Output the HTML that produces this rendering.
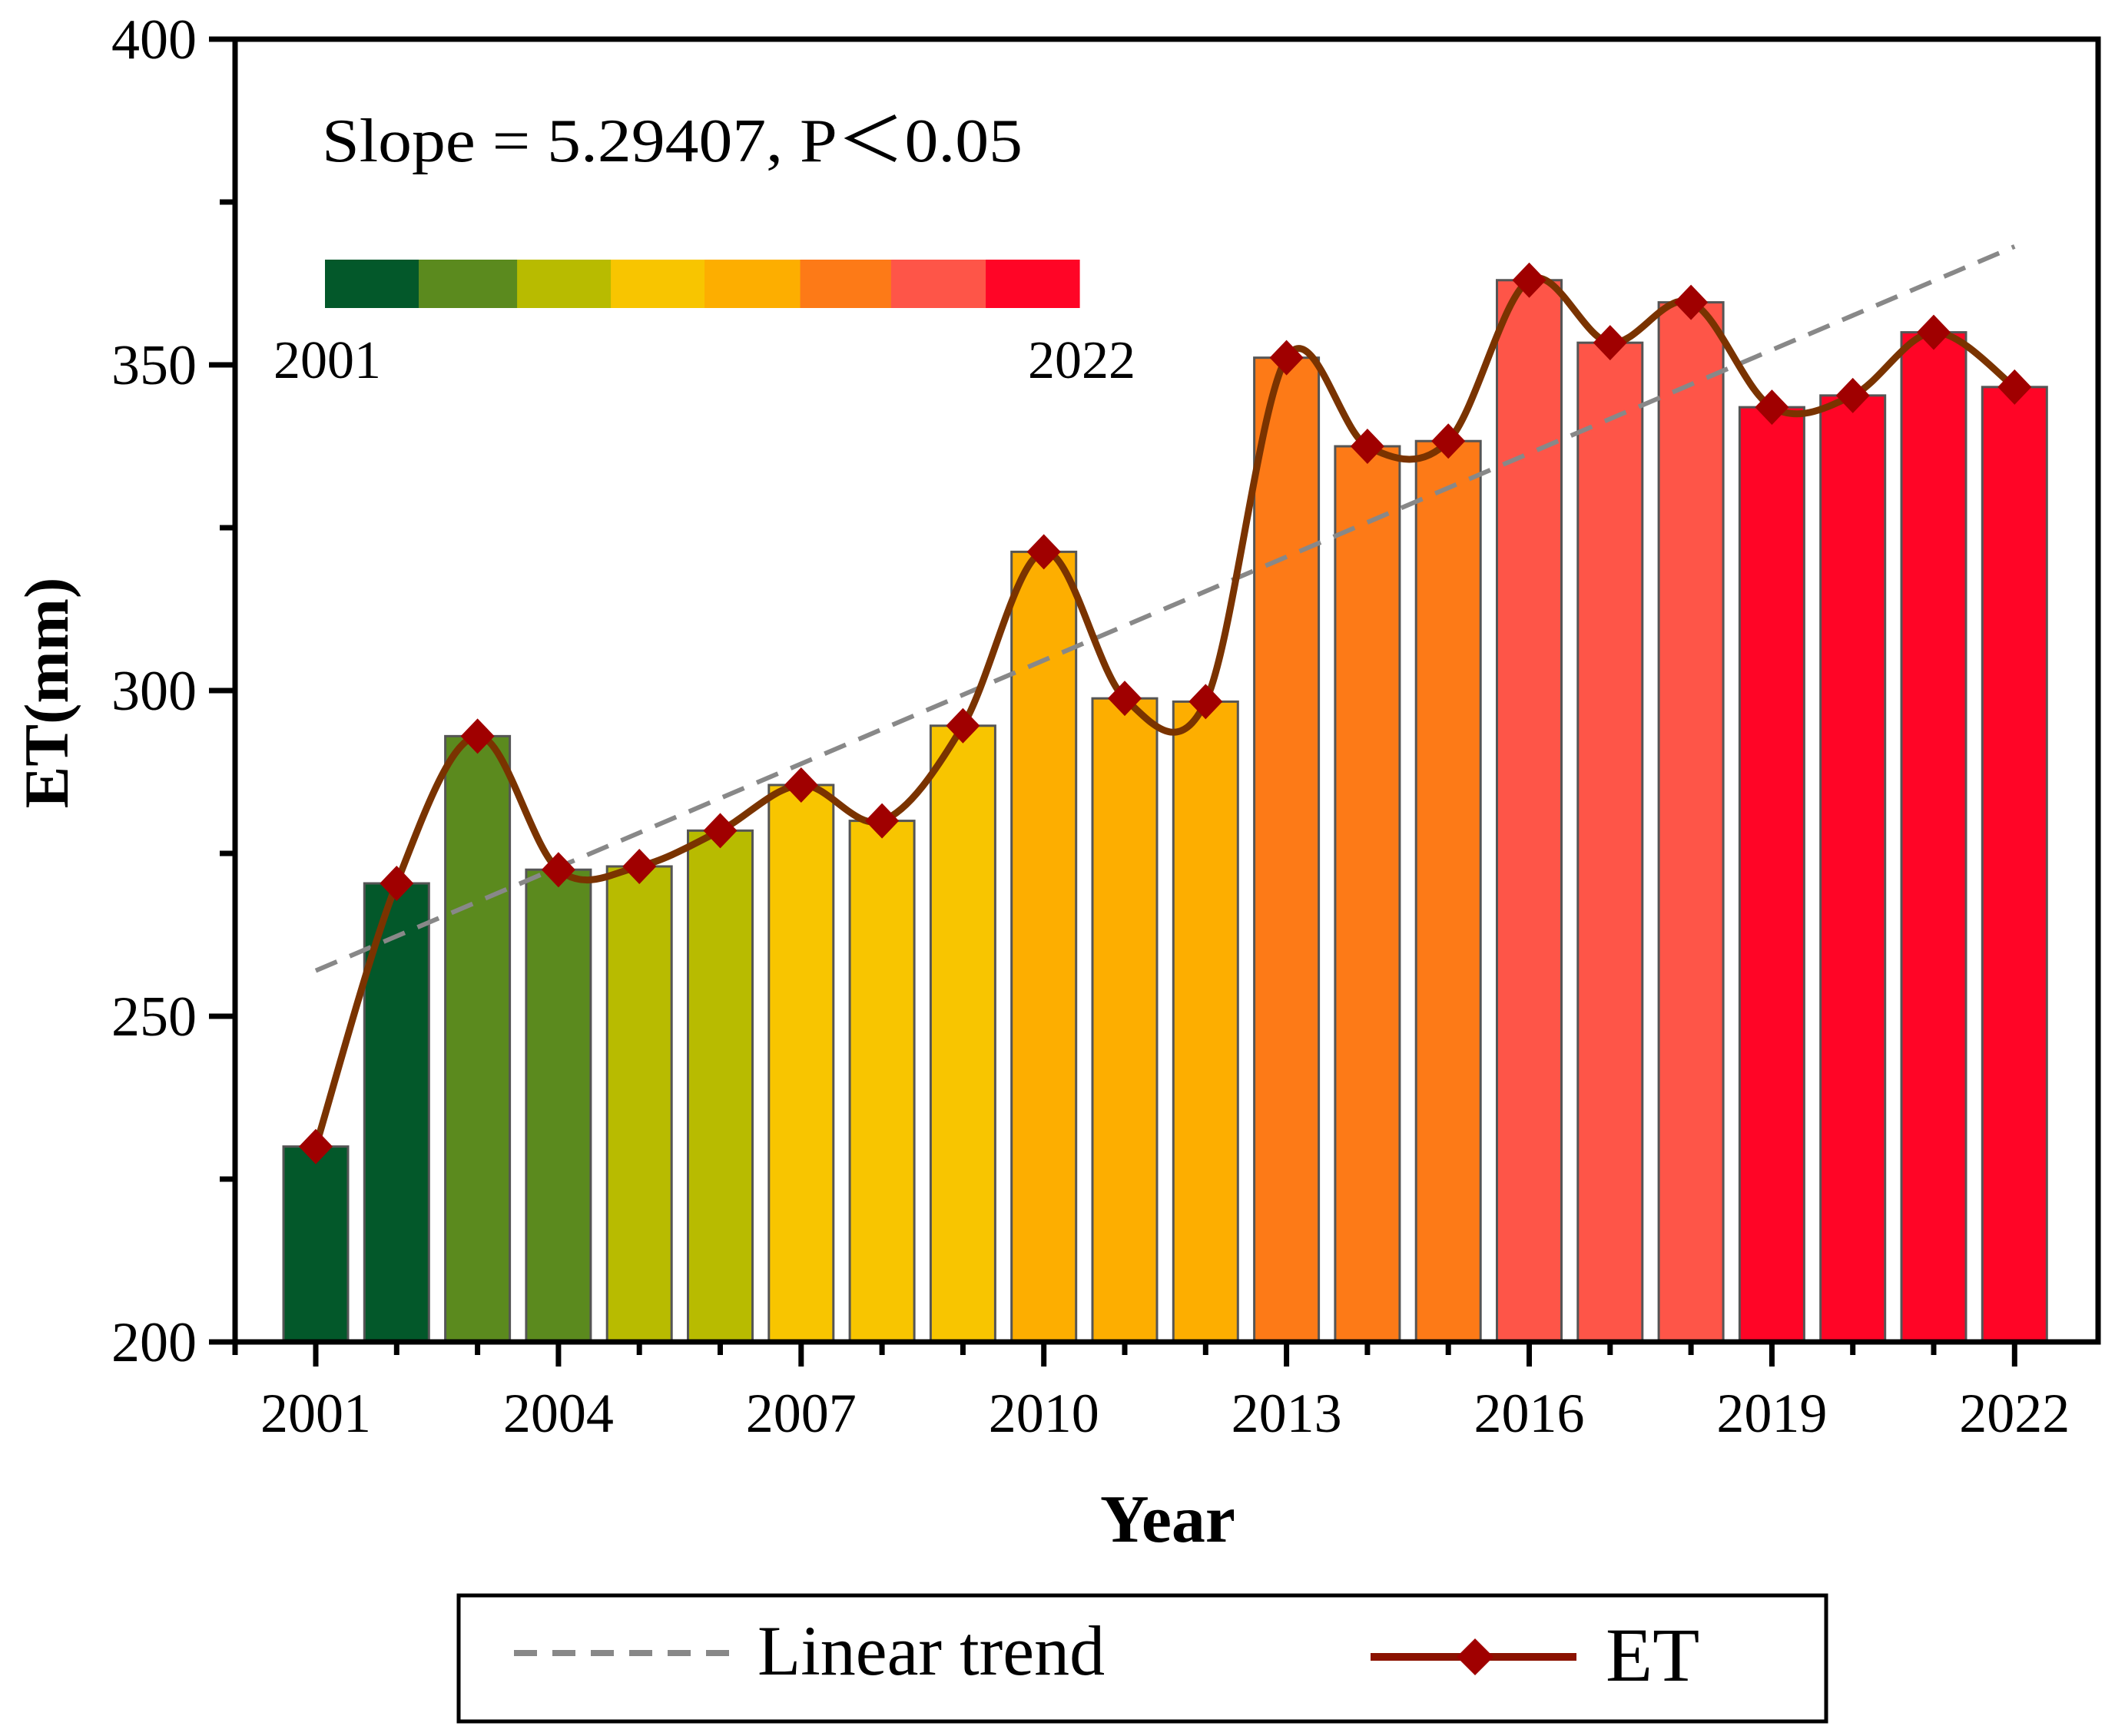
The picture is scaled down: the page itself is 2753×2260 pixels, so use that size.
<!DOCTYPE html>
<html><head><meta charset="utf-8"><style>
html,body{margin:0;padding:0;background:#fff;}
svg{display:block;font-family:"Liberation Serif",serif;}
</style></head><body>
<svg id="chart" width="2753" height="2260" viewBox="0 0 2753 2260" xmlns="http://www.w3.org/2000/svg">
<g id="bars"></g>
<g id="trend"></g>
<g id="line"></g>
<g id="axes"></g>
<text x="419" y="210" font-size="80" textLength="912" lengthAdjust="spacingAndGlyphs">Slope = 5.29407, P＜0.05</text>
<g id="cbar"></g>
<text x="356" y="492" font-size="70">2001</text>
<text x="1338" y="492" font-size="70">2022</text>
<text x="1520" y="2007" font-size="88" font-weight="bold" text-anchor="middle">Year</text>
<text transform="translate(88,902) rotate(-90)" font-size="82" font-weight="bold" text-anchor="middle">ET(mm)</text>
<g>
<rect x="597" y="2077" width="1780" height="164" fill="none" stroke="#000" stroke-width="5"/>
<line x1="669" y1="2152" x2="951" y2="2152" stroke="#888" stroke-width="8" stroke-dasharray="30,20"/>
<text x="986" y="2180" font-size="92">Linear trend</text>
<line x1="1784" y1="2157" x2="2052" y2="2157" stroke="#8b1200" stroke-width="10"/>
<path d="M1920 2133 L1944 2157 L1920 2181 L1896 2157 Z" fill="#a00000"/>
<text x="2090" y="2188" font-size="100">ET</text>
</g>
</svg>
<script>
const years=[2001,2002,2003,2004,2005,2006,2007,2008,2009,2010,2011,2012,2013,2014,2015,2016,2017,2018,2019,2020,2021,2022];
const etValues=[230,270.4,293,272.5,273,278.5,285.5,280,294.6,321.3,298.8,298.3,351.1,337.5,338.3,363,353.4,359.6,343.5,345.3,355,346.6];
const barColors=["#03582a","#03582a","#5b8a1e","#5b8a1e","#b8bb00","#b8bb00","#f8c500","#f8c500","#f8c500","#fdae00","#fdae00","#fdae00","#fd7a17","#fd7a17","#fd7a17","#fe5548","#fe5548","#fe5548","#ff0526","#ff0526","#ff0526","#ff0526"];
const yTicks=[200,250,300,350,400];
const xTickLabels=[2001,2004,2007,2010,2013,2016,2019,2022];
const trendSlope=5.29407;
const trendStart=257;
const cbarColors=["#03582a","#5b8a1e","#b8bb00","#f8c500","#fdae00","#fd7a17","#fe5548","#ff0526"];
const cbarEdges=[0,1,2.05,3.05,4.05,5.07,6.04,7.05,8.05];

const NS="http://www.w3.org/2000/svg";
const X0=306,X1=2731,Y0=1747,Y1=51;
const xs=y=>411+(y-2001)*105.3;
const ys=v=>Y0-(v-200)*(Y0-Y1)/200;
function mk(tag,attrs,parent){const e=document.createElementNS(NS,tag);for(const k in attrs)e.setAttribute(k,attrs[k]);parent.appendChild(e);return e;}
const gb=document.getElementById('bars');
years.forEach((yr,i)=>{
 const r=mk('rect',{x:xs(yr)-42,y:ys(etValues[i]),width:84,height:Y0-ys(etValues[i]),fill:barColors[i],stroke:'#555','stroke-width':3},gb);
 
 
});
const gt=document.getElementById('trend');
const tl=mk('line',{x1:xs(2001),y1:ys(trendStart),x2:xs(2022),y2:ys(trendStart+trendSlope*21),stroke:'#888','stroke-width':6,'stroke-dasharray':'30,18'},gt);


const gl=document.getElementById('line');
const P=years.map((yr,i)=>[xs(yr),ys(etValues[i])]);
let d='M'+P[0][0]+' '+P[0][1];
for(let i=0;i<P.length-1;i++){
 const p0=P[Math.max(0,i-1)],p1=P[i],p2=P[i+1],p3=P[Math.min(P.length-1,i+2)];
 const c1=[p1[0]+(p2[0]-p0[0])/6,p1[1]+(p2[1]-p0[1])/6];
 const c2=[p2[0]-(p3[0]-p1[0])/6,p2[1]-(p3[1]-p1[1])/6];
 d+=' C'+c1[0]+' '+c1[1]+' '+c2[0]+' '+c2[1]+' '+p2[0]+' '+p2[1];
}
const pl=mk('path',{d:d,fill:'none',stroke:'#7a3300','stroke-width':9},gl);


P.forEach((p,i)=>{
 const m=mk('path',{d:`M${p[0]} ${p[1]-23} L${p[0]+22} ${p[1]} L${p[0]} ${p[1]+23} L${p[0]-22} ${p[1]} Z`,fill:'#a00000'},gl);
 
 
});
const ga=document.getElementById('axes');
mk('rect',{x:X0,y:Y1,width:X1-X0,height:Y0-Y1,fill:'none',stroke:'#000','stroke-width':7},ga);
for(let v=200;v<=400;v+=25){
 const major=v%50===0;
 const t=mk('line',{x1:X0-(major?34:20),y1:ys(v),x2:X0,y2:ys(v),stroke:'#000','stroke-width':7},ga);
 
 
}
yTicks.forEach(v=>{
 const t=mk('text',{x:256,y:ys(v)+25,'font-size':74,'text-anchor':'end'},ga);
 t.textContent=v;
 
 
});
years.forEach(yr=>{
 const major=(yr-2001)%3===0;
 const t=mk('line',{x1:xs(yr),y1:Y0,x2:xs(yr),y2:Y0+(major?32:17),stroke:'#000','stroke-width':7},ga);
 
 
});
mk('line',{x1:X0,y1:Y0,x2:X0,y2:Y0+17,stroke:'#000','stroke-width':7},ga);
xTickLabels.forEach(yr=>{
 const t=mk('text',{x:xs(yr),y:1864,'font-size':72,'text-anchor':'middle'},ga);
 t.textContent=yr;
 
 
});
const gc=document.getElementById('cbar');
const cx0=423,cw=122;
cbarColors.forEach((c,i)=>{
 const r=mk('rect',{x:cx0+cbarEdges[i]*cw,y:338,width:(cbarEdges[i+1]-cbarEdges[i])*cw+0.5,height:63,fill:c},gc);
 
 
});
</script>
</body></html>
